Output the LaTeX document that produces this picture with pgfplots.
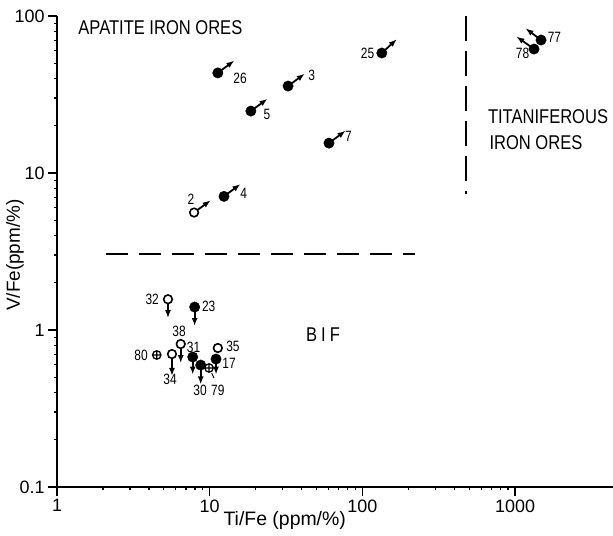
\documentclass[border=0pt]{standalone}
\usepackage{fontspec}
\setmainfont{Liberation Sans}
\newfontfamily\letterfont{Liberation Sans}[FakeStretch=0.8]
\newfontfamily\bigfont{Liberation Sans}[FakeStretch=0.83]
\usepackage{pgfplots}
\pgfplotsset{compat=1.18}
\usetikzlibrary{arrows.meta}

\tikzset{
  arr/.style={-{Latex[length=8bp,width=6bp]}, line width=1.8bp, black},
  lab/.style={font=\letterfont\fontsize{15}{15}\selectfont},
  big/.style={font=\bigfont\fontsize{20}{22}\selectfont},
}
\pgfplotsset{
  full/.style={only marks, mark=*, mark size=5.2bp, mark options={fill=black, draw=black}, forget plot},
  open/.style={only marks, mark=*, mark size=4.3bp, mark options={fill=white, draw=black, line width=1.6bp}, forget plot},
  cross/.style={only marks, mark=oplus, mark size=4.2bp, mark options={fill=white, draw=black, line width=1.3bp}, forget plot},
}

\begin{document}
\begin{tikzpicture}
\begin{axis}[
  xmode=log, ymode=log,
  scale only axis, width=556bp, height=471bp,
  xmin=1, xmax=4375, ymin=0.1, ymax=100,
  axis lines=left,
  axis line style={-, line width=1.3bp, black},
  xtick={1,10,100,1000}, xticklabels={1,10,100,1000},
  ytick={0.1,1,10,100}, yticklabels={0.1,1,10,100},
  minor xtick={}, minor ytick={},
  tick align=outside, major tick length=9bp,
  tick style={line width=1.3bp, black},
  tick label style={font=\fontsize{18}{18}\selectfont},
  clip=false,
]
% field boundaries
\addplot[black, line width=2.2bp, dash pattern=on 22bp off 11bp, forget plot] coordinates {(2.1,3.05) (220,3.05)};
\addplot[black, line width=2.2bp, dash pattern=on 25bp off 10bp, forget plot] coordinates {(477,100) (477,7.3)};

% arrows: apatite iron ores (up-right)
\addplot[arr, forget plot] coordinates {(11.3,43.4) (14.5,52.0)};
\addplot[arr, forget plot] coordinates {(32.6,35.8) (41.9,42.9)};
\addplot[arr, forget plot] coordinates {(18.6,24.8) (23.9,29.7)};
\addplot[arr, forget plot] coordinates {(60.4,15.5) (77.6,18.6)};
\addplot[arr, forget plot] coordinates {(12.4,7.1) (15.9,8.5)};
\addplot[arr, forget plot] coordinates {(7.9,5.6) (10.15,6.7)};
\addplot[arr, forget plot] coordinates {(134,58.1) (168,71.2)};
% titaniferous iron ores (up-left)
\addplot[arr, forget plot] coordinates {(1478,70.3) (1170,83.4)};
\addplot[arr, forget plot] coordinates {(1330,61.6) (1020,74.0)};
% BIF (downward)
\addplot[arr, forget plot] coordinates {(5.33,1.57) (5.33,1.19)};
\addplot[arr, forget plot] coordinates {(7.97,1.40) (7.97,1.06)};
\addplot[arr, forget plot] coordinates {(6.46,0.814) (6.46,0.615)};
\addplot[arr, forget plot] coordinates {(7.74,0.673) (7.74,0.52)};
\addplot[arr, forget plot] coordinates {(5.66,0.703) (5.66,0.51)};
\addplot[arr, forget plot] coordinates {(8.73,0.598) (8.73,0.45)};
\addplot[arr, forget plot] coordinates {(11.0,0.653) (11.0,0.52)};
\addplot[black, line width=0.9bp, forget plot] coordinates {(10.3,0.532) (10.67,0.494)};

% samples
\addplot[full] coordinates {
  (11.3,43.4) (32.6,35.8) (18.6,24.8) (60.4,15.5) (12.4,7.1) (134,58.1)
  (1478,70.3) (1330,61.6)
  (7.97,1.40) (7.74,0.673) (8.73,0.598) (11.0,0.653)};
\addplot[open] coordinates {
  (7.9,5.6) (5.33,1.57) (6.46,0.814) (5.66,0.703) (11.3,0.768)};
\addplot[cross] coordinates {(4.5,0.693) (9.9,0.573)};

% sample numbers
\node[lab] at (axis cs:15.8,40.3) {26};
\node[lab] at (axis cs:46.5,42.1) {3};
\node[lab] at (axis cs:23.7,23.6) {5};
\node[lab] at (axis cs:81,17.0) {7};
\node[lab] at (axis cs:16.7,7.46) {4};
\node[lab] at (axis cs:7.55,6.83) {2};
\node[lab] at (axis cs:108,58.1) {25};
\node[lab] at (axis cs:1810,73.5) {77};
\node[lab] at (axis cs:1120,57.5) {78};
\node[lab] at (axis cs:4.2,1.57) {32};
\node[lab] at (axis cs:9.85,1.42) {23};
\node[lab] at (axis cs:6.3,0.975) {38};
\node[lab] at (axis cs:7.85,0.78) {31};
\node[lab] at (axis cs:3.55,0.693) {80};
\node[lab] at (axis cs:5.5,0.485) {34};
\node[lab] at (axis cs:14.2,0.791) {35};
\node[lab] at (axis cs:13.4,0.616) {17};
\node[lab] at (axis cs:8.64,0.412) {30};
\node[lab] at (axis cs:11.3,0.412) {79};

% field names
\node[big, anchor=west] at (axis cs:1.31,84) {APATITE IRON ORES};
\node[big, anchor=west] at (axis cs:630,22.7) {TITANIFEROUS};
\node[big, anchor=west] at (axis cs:645,15.5) {IRON ORES};
\node[big] at (axis cs:55.2,0.93) {B\hspace{4bp}I\hspace{4bp}F};

% axis titles
\node[font=\fontsize{19.5}{19.5}\selectfont] at (axis cs:31,0.1) [yshift=-33bp] {Ti/Fe (ppm/\%)};
\node[font=\fontsize{19}{19}\selectfont, rotate=90] at ([xshift=-42bp]axis cs:1,3.0) {V/Fe(ppm/\%)};
\end{axis}
\pgfresetboundingbox
\path[use as bounding box] ([shift={(-57bp,-48bp)}]current axis.south west) rectangle ([shift={(0bp,16bp)}]current axis.north east);
\end{tikzpicture}
\end{document}
